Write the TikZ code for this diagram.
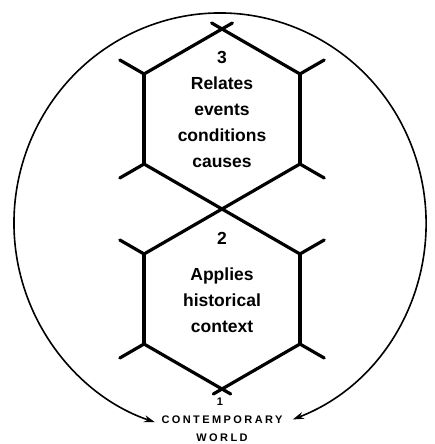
\documentclass[tikz,border=0pt]{standalone}
\usepackage{fontspec}
\setmainfont{Liberation Sans}
\newfontfamily\spacedfont[LetterSpace=22]{Liberation Sans}
\usetikzlibrary{arrows.meta,calc}

\begin{document}
\begin{tikzpicture}[x=1pt,y=1pt,
  cell/.style={line width=3.2pt,line cap=round},
  ring/.style={line width=1.6pt},
  cellnum/.style={font=\bfseries\fontsize{17.5}{26}\selectfont},
  celltext/.style={cellnum,align=center}]
  \useasboundingbox (0,0) rectangle (435,444);
  % corners of the two cells, t = cell 3, b = cell 2
  \foreach \c/\y in {t/325,b/145}
    \foreach \a in {30,90,150,210,270,330}
      \coordinate (\c\a) at ($(222,\y)+(\a:90)$);
  % sides and outer stubs
  \foreach \c in {t,b} {
    \draw[cell] (\c150) -- (\c210);
    \draw[cell] (\c30) -- (\c330);
    \foreach \a in {30,150,210,330}
      \draw[cell] (\c\a) -- ($(\c\a)+(\a:28)$);
  }
  % slanted edges, crossing at the corners
  \draw[cell,shorten >=-12pt] (t150) -- (t90);
  \draw[cell,shorten >=-12pt] (t30) -- (t90);
  \draw[cell] (t210) -- (b30);
  \draw[cell] (t330) -- (b150);
  \draw[cell,shorten >=-10pt] (b210) -- (b270);
  \draw[cell,shorten >=-10pt] (b330) -- (b270);
  % outer ring
  \draw[ring,{Stealth[length=11pt,width=7pt]}-{Stealth[length=11pt,width=7pt]}]
    ($(220,221)+(-69.3:206 and 210)$) arc[start angle=-69.3,end angle=251.6,x radius=206,y radius=210];
  \node[cellnum] (n3) at (222,387) {3};
  \node[celltext] (l3) at (222,322) {Relates\\events\\conditions\\causes};
  \node[cellnum] (n2) at (222,206) {2};
  \node[celltext] (l2) at (222,144) {Applies\\historical\\context};
  \node[font=\bfseries\fontsize{11}{11}\selectfont] (n1) at (220,42) {1};
  \node[font=\spacedfont\bfseries\fontsize{11}{18}\selectfont,align=center] (world) at (222,15) {CONTEMPORARY\\WORLD};
\end{tikzpicture}
\end{document}
